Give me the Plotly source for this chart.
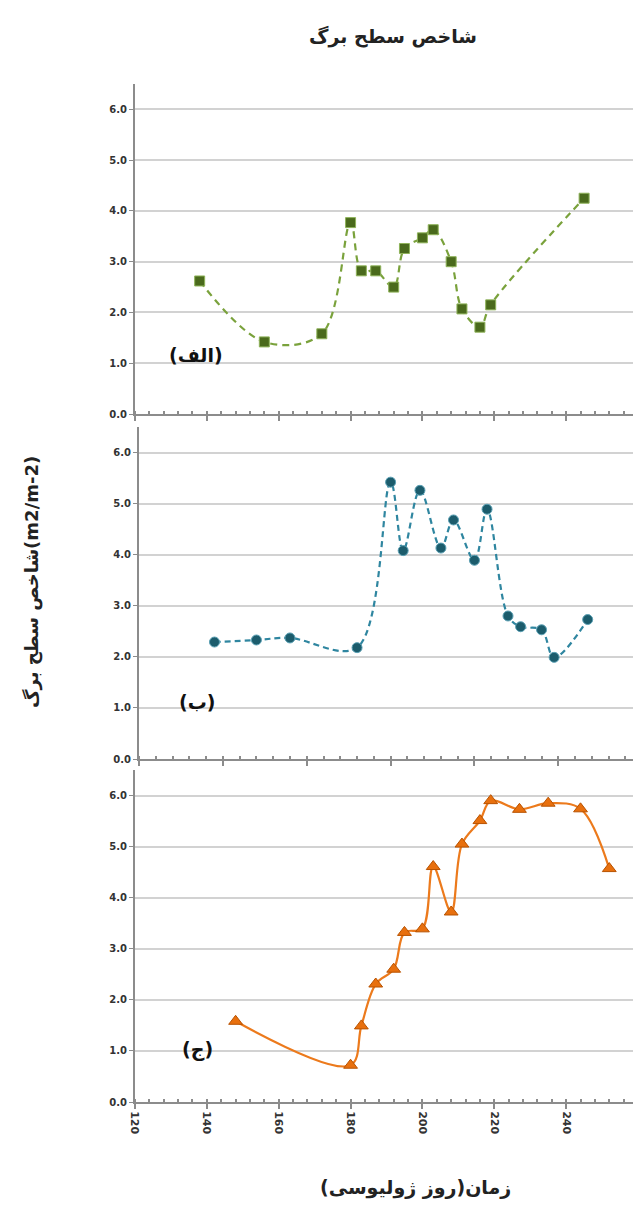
import plotly.graph_objects as go

# ---------------- data ----------------
days_a = [138, 156, 172, 180, 183, 187, 192, 195, 200, 203, 208, 211, 216, 219, 245]
lai_a = [2.62, 1.42, 1.58, 3.77, 2.82, 2.82, 2.50, 3.26, 3.47, 3.63, 3.00, 2.07, 1.71, 2.15, 4.25]

days_b = [158, 168, 176, 192, 200, 203, 207, 212, 215, 220, 223, 228, 231, 236, 239, 247]
lai_b = [2.29, 2.33, 2.37, 2.18, 5.42, 4.08, 5.26, 4.13, 4.68, 3.89, 4.89, 2.80, 2.59, 2.53, 1.99, 2.73]

days_c = [148, 180, 183, 187, 192, 195, 200, 203, 208, 211, 216, 219, 227, 235, 244, 252]
lai_c = [1.58, 0.72, 1.49, 2.31, 2.60, 3.32, 3.39, 4.61, 3.72, 5.05, 5.51, 5.90, 5.73, 5.85, 5.74, 4.57]

x_ticks = [120, 140, 160, 180, 200, 220, 240, 260]
y_ticks = [0, 1, 2, 3, 4, 5, 6]

title_text = "شاخص سطح برگ"
y_title = "شاخص سطح برگ(m2/m-2)"
x_title = "زمان(روز ژولیوسی)"
panel_labels = ["(الف)", "(ب)", "(ج)"]

# ---------------- geometry ----------------
# the page body has an 8px margin, so the figure is drawn offset by 8px
OFF = 8
W, H = 641 - OFF, 1210 - 2 * OFF
ML, MR = 135 - OFF, 3
PW = W - ML - MR


def px_x(px):
    return (px - OFF - ML) / PW


def px_y(py):
    return 1 - (py - OFF) / H


fig = go.Figure()

fig.add_trace(go.Scatter(
    x=days_a, y=lai_a, xaxis="x", yaxis="y", mode="lines+markers",
    line=dict(color="#7aa23c", width=2.2, dash="7px,5px", shape="spline", smoothing=1),
    marker=dict(symbol="square", size=10, color="#4a6a1c", line=dict(color="#8fb35a", width=1)),
    showlegend=False))

fig.add_trace(go.Scatter(
    x=days_b, y=lai_b, xaxis="x2", yaxis="y2", mode="lines+markers",
    line=dict(color="#2f86a0", width=2.2, dash="6px,4px", shape="spline", smoothing=1),
    marker=dict(symbol="circle", size=10, color="#1c5c6c", line=dict(color="#5aa0b4", width=1)),
    showlegend=False))

fig.add_trace(go.Scatter(
    x=days_c, y=lai_c, xaxis="x3", yaxis="y3", mode="lines+markers",
    line=dict(color="#ec7a1c", width=2.2, shape="spline", smoothing=1),
    marker=dict(symbol="triangle-up", size=12, color="#e8700e", line=dict(color="#b85200", width=1)),
    showlegend=False))

axis_line = "#8c8c8c"
grid_col = "#d2d2d2"
tick_font = dict(family="DejaVu Sans", size=10, color="#333333", weight="bold")


def yaxis_cfg(anchor, dom):
    return dict(
        domain=dom, anchor=anchor, range=[0, 6.5], tickvals=y_ticks, tickformat=".1f",
        showgrid=True, gridcolor=grid_col, gridwidth=1.5, zeroline=False,
        showline=True, linecolor=axis_line, linewidth=2, automargin=False,
        ticks="outside", ticklen=4, tickcolor=axis_line, tickfont=tick_font)


def xaxis_cfg(anchor, rng, dom, labels):
    return dict(
        domain=dom, anchor=anchor, range=rng, tickvals=x_ticks, showgrid=False, zeroline=False,
        showline=True, linecolor=axis_line, linewidth=2, automargin=False,
        ticks="outside", ticklen=5, tickcolor=axis_line, tickwidth=1.5,
        showticklabels=labels, tickangle=90,
        tickfont=dict(family="DejaVu Sans", size=11, color="#333333", weight="bold"),
        minor=dict(dtick=4, ticks="inside", ticklen=3, tickcolor=axis_line, showgrid=False))


fig.update_layout(
    width=W, height=H,
    margin=dict(l=ML, r=MR, t=0, b=0, autoexpand=False),
    paper_bgcolor="white", plot_bgcolor="white",
    xaxis=xaxis_cfg("y", [120, 260], [0, 1], False),
    yaxis=yaxis_cfg("x", [px_y(414), px_y(84)]),
    xaxis2=xaxis_cfg("y2", [140, 259], [px_x(139), 1], False),
    yaxis2=yaxis_cfg("x2", [px_y(759), px_y(427)]),
    xaxis3=xaxis_cfg("y3", [120, 260], [0, 1], True),
    yaxis3=yaxis_cfg("x3", [px_y(1102), px_y(770)]),
)

ann = []


def add_text(text, px, py, size, angle=0, color="#222"):
    ann.append(dict(text=text, x=px_x(px), y=px_y(py), xref="paper", yref="paper",
                    xanchor="center", yanchor="middle", textangle=angle, showarrow=False,
                    font=dict(family="DejaVu Sans", size=size, color=color, weight="bold")))


add_text(title_text, 393, 37, 19)
add_text(y_title, 32, 582, 18, angle=-90)
add_text(x_title, 415, 1187, 19)
for lab, (lx, ly) in zip(panel_labels, [(196, 355), (197, 702), (197, 1049)]):
    add_text(lab, lx, ly, 19, color="#111")
fig.update_layout(annotations=ann)

fig.write_html("out.html")
